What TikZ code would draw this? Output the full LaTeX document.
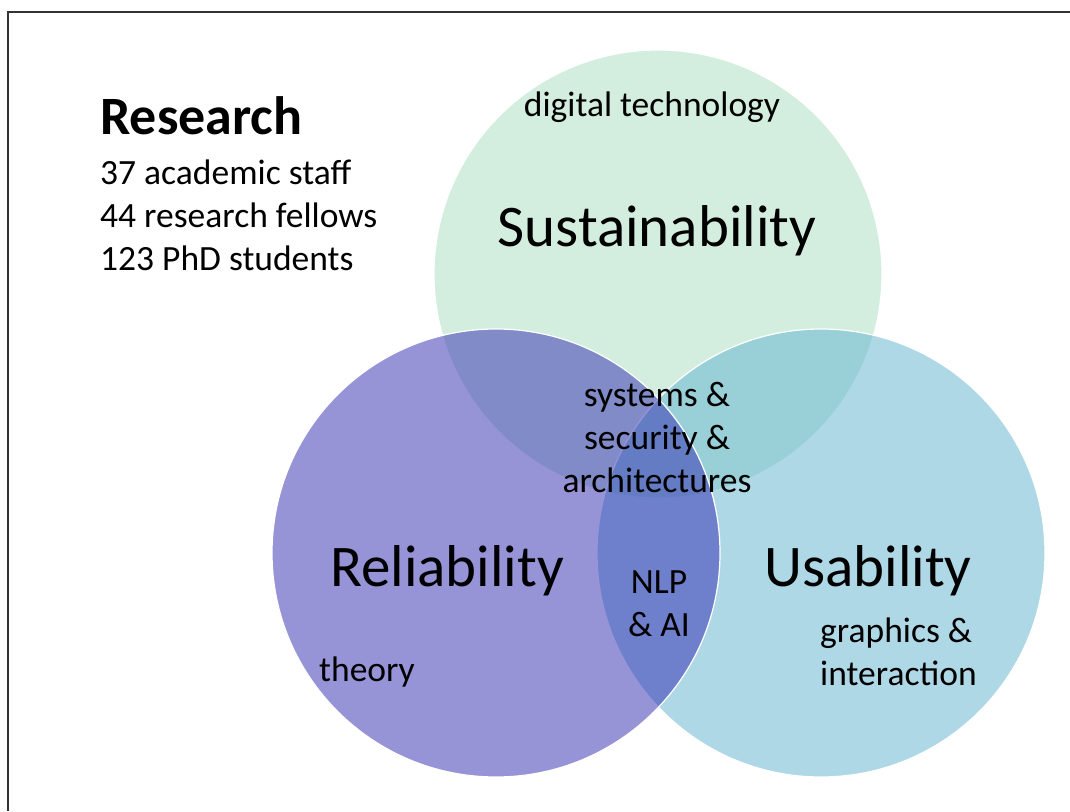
\documentclass[tikz,border=0pt]{standalone}
\usepackage{fontspec}
\setmainfont{Carlito}
\usepackage{tikz}

\definecolor{sustfill}{RGB}{169,223,193}
\definecolor{usefill}{RGB}{97,179,209}
\definecolor{relfill}{RGB}{47,41,177}

\begin{document}
\begin{tikzpicture}[x=1pt,y=-1pt,
    venn/.style={circle, draw=white, line width=1.2pt, fill opacity=0.5, minimum size=448pt, inner sep=0pt},
    big/.style={font=\fontsize{59}{70}\selectfont},
    small/.style={font=\fontsize{35.5}{43}\selectfont, align=center}]
    \useasboundingbox (0,0) rectangle (1070,811);
    \fill[white] (0,0) rectangle (1070,811);
    \draw[line width=2.5pt, black!80] (8,811) -- (8,12) -- (1070,12);
    % circles
    \node[venn, fill=sustfill] (sust) at (658,274) {};
    \node[venn, fill=usefill] (use) at (821,553) {};
    \node[venn, fill=relfill] (rel) at (496,553) {};
    % labels
    \node[anchor=base west, inner sep=0pt, font=\bfseries\fontsize{54}{64}\selectfont] (research) at (100,134) {Research};
    \node[anchor=west, inner sep=0pt, small, align=left] (counts) at (100,215) {37 academic staff\\44 research fellows\\123 PhD students};
    \node[small] (digital) at (652,107) {digital technology};
    \node[big] (sustlabel) at (657,231) {Sustainability};
    \node[small] (sysec) at (657,437) {systems \&\\security \&\\architectures};
    \node[big] (rellabel) at (447,571) {Reliability};
    \node[small] (nlp) at (659,604) {NLP\\\& AI};
    \node[big] (uselabel) at (868,571) {Usability};
    \node[small, align=left, anchor=west, inner sep=0pt] (graphics) at (820,652) {graphics \&\\interaction};
    \node[small] (theory) at (367,672) {theory};
\end{tikzpicture}
\end{document}
